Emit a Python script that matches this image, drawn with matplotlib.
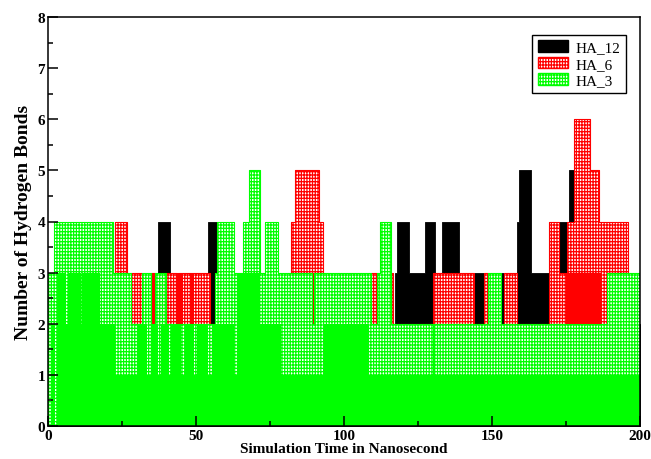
import numpy as np
import matplotlib.pyplot as plt
from matplotlib.patches import Patch

# Hydrogen bond counts, stored as step segments: value holds from t[i] to t[i+1]
# HA_12 (solid black)
ha12_t = [0, 37.2, 41.1, 43.5, 43.9, 54.1, 57.2, 117.3, 118.0, 122.1, 127.4, 130.9,
          133.1, 139.0, 147.4, 153.0, 154.1, 158.3, 159.2, 163.1, 172.8, 175.2,
          176.0, 177.7, 200]
ha12_n = [2, 4, 2, 3, 2, 4, 2, 3, 4, 3, 4, 3,
          4, 3, 2, 3, 2, 4, 5, 3, 4, 3,
          5, 2]

# HA_6: upper level reached in each interval
ha6_t = [0, 22.6, 26.6, 28.0, 31.7, 34.7, 36.1, 39.8, 43.5, 43.9, 54.6, 82.2, 83.3,
         91.7, 92.9, 109.2, 111.2, 115.9, 116.6, 129.9, 144.0, 147.4, 148.7, 154.1,
         158.6, 169.1, 172.8, 175.2, 177.7, 183.0, 186.0, 196.0, 200]
ha6_n = [2, 4, 2, 3, 2, 3, 2, 3, 2, 3, 2, 4, 5,
         4, 2, 3, 2, 3, 2, 3, 2, 3, 2, 3,
         2, 4, 3, 4, 6, 5, 4, 2]
# HA_6: level held for the whole interval
ha6_low_t = [0, 34.7, 36.1, 43.9, 45.5, 47.9, 49.3, 89.1, 90.0, 129.9, 130.3, 175.0, 187.3, 200]
ha6_low_n = [0, 3, 0, 3, 0, 3, 0, 3, 0, 3, 0, 3, 0]

# HA_3: upper level reached in each interval
ha3_t = [0, 2.0, 22.0, 28.0, 31.7, 34.7, 36.1, 39.8, 56.3, 57.2, 62.8, 65.9, 67.9,
         71.7, 73.2, 77.7, 89.1, 90.0, 109.2, 111.2, 112.0, 115.9, 129.9, 130.3,
         148.7, 153.0, 189.0, 200]
ha3_n = [3, 4, 3, 2, 3, 2, 3, 2, 3, 4, 3, 4, 5,
         3, 4, 3, 2, 3, 2, 3, 4, 2, 1, 2,
         3, 2, 3]
# HA_3: level held for the whole interval
ha3_low_t = [0, 1.0, 2.3, 2.9, 6.2, 6.6, 11.2, 11.6, 17.5, 22.6, 30.5, 33.6, 34.9,
             37.2, 38.2, 41.0, 41.7, 45.1, 46.2, 49.4, 50.3, 53.9, 55.3, 62.8, 63.8,
             64.2, 71.7, 78.8, 93.4, 101.3, 101.7, 108.3, 200]
ha3_low_n = [0, 2, 0, 3, 2, 3, 2, 3, 2, 1, 2, 1, 2,
             1, 2, 1, 2, 1, 2, 1, 2, 1, 2, 1, 2,
             3, 2, 1, 2, 1, 2, 1]

xticks = [0, 50, 100, 150, 200]
yticks = [0, 1, 2, 3, 4, 5, 6, 7, 8]
names = ['HA_12', 'HA_6', 'HA_3']

plt.rcParams['hatch.linewidth'] = 0.9
serif = ['Liberation Serif', 'DejaVu Serif']
grid = '+++++|'


def steps(t, n):
    # repeat the last value so the final interval is drawn up to t[-1]
    return np.asarray(t, float), np.append(n, n[-1]).astype(float)


fig = plt.figure(figsize=(6.51, 4.60), dpi=100)
ax = fig.add_axes([48 / 651, 1 - 427 / 460, 592 / 651, 409 / 460])

# black set at the back, then red, then green on top
x, y = steps(ha12_t, ha12_n)
ax.fill_between(x, 0, y, step='post', facecolor='black', edgecolor='black', linewidth=0.6)

x, y = steps(ha6_t, ha6_n)
ax.fill_between(x, 0, y, step='post', facecolor='white', edgecolor='#ff0000',
                hatch=grid, linewidth=0.8)
x, y = steps(ha6_low_t, ha6_low_n)
ax.fill_between(x, 0, y, step='post', facecolor='#ff0000', linewidth=0)

x, y = steps(ha3_t, ha3_n)
ax.fill_between(x, 0, y, step='post', facecolor='white', edgecolor='#00ff00',
                hatch=grid, linewidth=0.8)
x, y = steps(ha3_low_t, ha3_low_n)
ax.fill_between(x, 0, y, step='post', facecolor='#00ff00', linewidth=0)

ax.set_xlim(0, 200)
ax.set_ylim(0, 8)
ax.set_xticks(xticks)
ax.set_xticks([25, 75, 125, 175], minor=True)
ax.set_yticks(yticks)
ax.set_yticks(np.arange(0.5, 8, 1), minor=True)
ax.tick_params(which='major', direction='in', length=7, width=1.1, pad=2)
ax.tick_params(which='minor', direction='in', length=3.5, width=1.1)
for lab in ax.get_xticklabels() + ax.get_yticklabels():
    lab.set_family(serif)
    lab.set_fontweight('bold')
    lab.set_fontsize(11)
for sp in ax.spines.values():
    sp.set_linewidth(1.1)

ax.set_xlabel('Simulation Time in Nanosecond', family=serif, fontweight='bold',
              fontsize=11, labelpad=0)
ax.set_ylabel('Number of Hydrogen Bonds', family=serif, fontweight='bold',
              fontsize=14, labelpad=4)

handles = [Patch(facecolor='black', edgecolor='black'),
           Patch(facecolor='white', edgecolor='#ff0000', hatch=grid),
           Patch(facecolor='white', edgecolor='#00ff00', hatch=grid)]
leg = ax.legend(handles, names, loc='upper right',
                bbox_to_anchor=(626 / 651, 1 - 36 / 460), bbox_transform=fig.transFigure,
                borderaxespad=0, prop={'family': serif, 'size': 11}, fancybox=False,
                framealpha=1, edgecolor='black', borderpad=0.35, labelspacing=0.15,
                handlelength=2.0, handleheight=0.8, handletextpad=0.5)
leg.get_frame().set_linewidth(1.0)

plt.savefig('out.png', dpi=100)
